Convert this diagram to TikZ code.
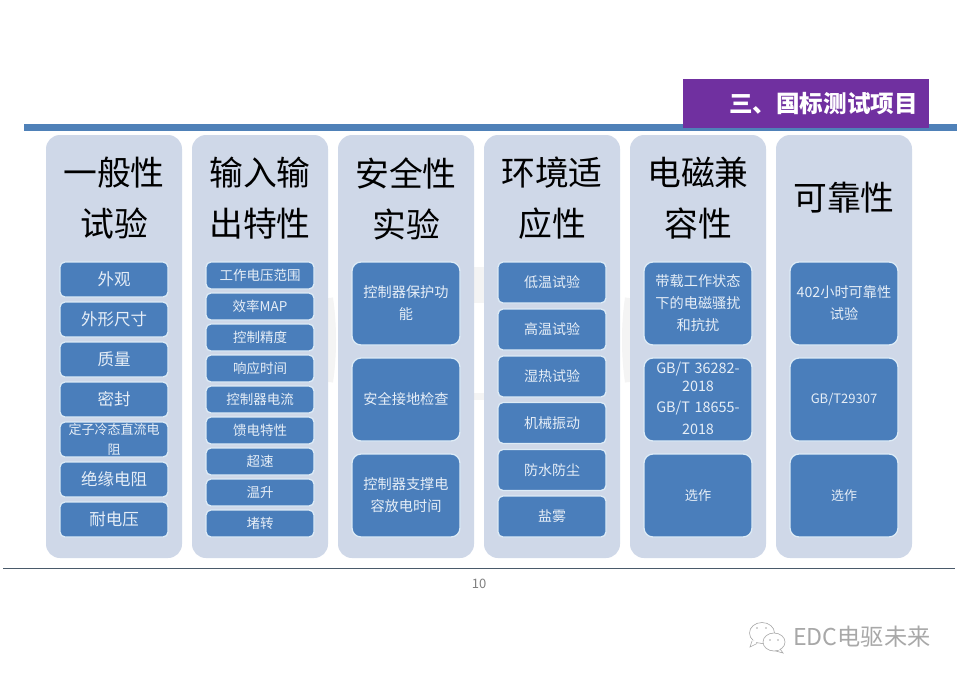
\documentclass[tikz,border=0pt]{standalone}
\usepackage{fontspec}
\setmainfont{Noto Sans CJK SC}
\definecolor{barblue}{HTML}{4F81B8}
\definecolor{panelblue}{HTML}{CFD8E8}
\definecolor{boxblue}{HTML}{4A7EBB}
\definecolor{boxedge}{HTML}{DDEBF6}
\definecolor{boxtext}{HTML}{E6EEF7}
\definecolor{titlepurple}{HTML}{7030A0}
\definecolor{ruleslate}{HTML}{4A5A6A}
\definecolor{markgray}{HTML}{A8A8A8}
\definecolor{faintlogo}{HTML}{F4F4F4}
\newcommand{\fsz}[2]{\fontsize{#1}{#2}\selectfont}
\tikzset{
  panel/.style={fill=panelblue,draw=none,rounded corners=14pt,minimum width=136pt,minimum height=423pt,inner sep=0pt},
  head/.style={text=black,align=center,font=\fsz{33.8}{51},inner sep=0pt},
  item/.style={fill=boxblue,draw=boxedge,line width=1.3pt,rounded corners=5pt,minimum width=108pt,inner sep=0pt,
    text=boxtext,align=center,text width=106pt},
  itema/.style={item,minimum height=35pt,font=\fsz{16.5}{20}},
  itemb/.style={item,minimum height=27pt,font=\fsz{13.5}{16}},
  itemc/.style={item,rounded corners=9pt,minimum height=83pt,font=\fsz{14.2}{22}},
  itemd/.style={item,minimum height=41pt,font=\fsz{14}{16}},
  iteme/.style={itemc,font=\fsz{13}{22}},
  bubble/.style={draw=markgray,line width=.6pt,fill=white},
}
\begin{document}
\begin{tikzpicture}[x=1pt,y=-1pt]
\useasboundingbox (0,0) rectangle (959,678);
\fill[white] (0,0) rectangle (959,678);
% faint background logo, seen only between the panels
\draw[faintlogo,line width=8pt] (329,298) .. controls (333,325) and (333,355) .. (329,382);
\draw[faintlogo,line width=8pt] (629,298) .. controls (625,325) and (625,355) .. (629,382);
\fill[faintlogo] (474,267) rectangle (484,303);
\fill[faintlogo] (474,393) rectangle (484,400);
% header
\fill[barblue] (24,124) rectangle (957,131);
\node[fill=titlepurple,minimum width=246pt,minimum height=49pt,inner sep=0pt] (titlebar) at (806,103.5) {};
\node[text=white,font=\fsz{23.6}{28}\bfseries,inner sep=0pt,anchor=east] (titletext) at (918,104) {三、国标测试项目};
% panels
\foreach \n/\x in {p1/114,p2/260,p3/406,p4/552,p5/698,p6/844}
  \node[panel] (\n) at (\x,346.5) {};
% headings
\node[head] (h1) at (114,198.5) {一般性\\试验};
\node[head] (h2) at (260,198.5) {输入输\\出特性};
\node[head] (h3) at (406,198.5) {安全性\\实验};
\node[head] (h4) at (552,198.5) {环境适\\应性};
\node[head] (h5) at (698,198.5) {电磁兼\\容性};
\node[head] (h6) at (844,198) {可靠性};
% column 1
\node[itema] (a1) at (114,279.5) {外观};
\node[itema] (a2) at (114,319.5) {外形尺寸};
\node[itema] (a3) at (114,359.5) {质量};
\node[itema] (a4) at (114,399.5) {密封};
\node[itema,font=\fsz{13}{20}] (a5) at (114,439.5) {定子冷态直流电\\阻};
\node[itema] (a6) at (114,479.5) {绝缘电阻};
\node[itema] (a7) at (114,519.5) {耐电压};
% column 2
\node[itemb] (b1) at (260,275.5) {工作电压范围};
\node[itemb] (b2) at (260,306.5) {效率MAP};
\node[itemb] (b3) at (260,337.5) {控制精度};
\node[itemb] (b4) at (260,368.5) {响应时间};
\node[itemb] (b5) at (260,399.5) {控制器电流};
\node[itemb] (b6) at (260,430.5) {馈电特性};
\node[itemb] (b7) at (260,461.5) {超速};
\node[itemb] (b8) at (260,492.5) {温升};
\node[itemb] (b9) at (260,523.5) {堵转};
% column 3
\node[itemc] (c1) at (406,303.5) {控制器保护功\\能};
\node[itemc] (c2) at (406,399.5) {安全接地检查};
\node[itemc] (c3) at (406,495.5) {控制器支撑电\\容放电时间};
% column 4
\node[itemd] (d1) at (552,282.5) {低温试验};
\node[itemd] (d2) at (552,329.5) {高温试验};
\node[itemd] (d3) at (552,376.5) {湿热试验};
\node[itemd] (d4) at (552,423) {机械振动};
\node[itemd] (d5) at (552,470) {防水防尘};
\node[itemd] (d6) at (552,516.5) {盐雾};
% column 5
\node[itemc] (e1) at (698,303.5) {带载工作状态\\下的电磁骚扰\\和抗扰};
\node[itemc,font=\fsz{14.4}{21.5}] (e2) at (698,399.5) {GB/T 36282-\\[-3.5pt]2018\\GB/T 18655-\\2018\rule[-3pt]{0pt}{0pt}};
\node[itemc,font=\fsz{13.2}{22}] (e3) at (698,495.5) {选作};
% column 6
\node[itemc] (f1) at (844,303.5) {402小时可靠性\\试验};
\node[iteme] (f2) at (844,399.5) {GB/T29307};
\node[iteme] (f3) at (844,495.5) {选作};
% footer
\draw[ruleslate,line width=.8pt] (3,568.5) -- (955,568.5);
\node[text=gray,font=\fsz{13}{16},inner sep=0pt] (pageno) at (479,584) {10};
% watermark
\draw[bubble] (752,641) -- (750,647) -- (757,643.5);
\draw[bubble] (762,633) ellipse [x radius=12.5,y radius=10.5];
\fill[white] (753,640) -- (755,643) -- (758,641) -- cycle;
\draw[bubble] (780,649) -- (783,653) -- (774,650.5);
\draw[bubble] (774,642) ellipse [x radius=11,y radius=9];
\fill[white] (778,648) -- (780,650) -- (775,649.5) -- cycle;
\foreach \ex/\ey in {757/628,766/628,770/640,778/640}
  \fill[markgray] (\ex,\ey) circle [radius=.9];
\node[text=markgray,font=\fsz{23.2}{28},inner sep=0pt,anchor=west] (brand) at (793,637) {EDC电驱未来};
\end{tikzpicture}
\end{document}
